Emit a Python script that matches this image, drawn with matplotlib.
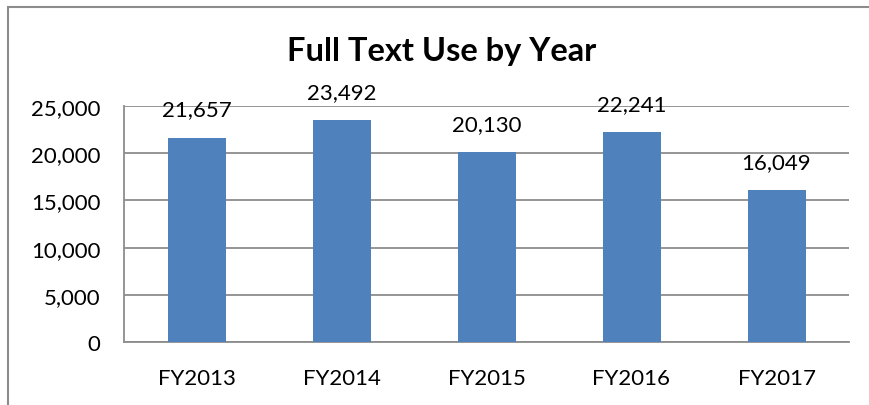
import numpy as np
import matplotlib.pyplot as plt
from matplotlib.patches import Rectangle

# data
years = ["FY2013", "FY2014", "FY2015", "FY2016", "FY2017"]
uses = [21657, 23492, 20130, 22241, 16049]
yticks = [0, 5000, 10000, 15000, 20000, 25000]

W, H = 869, 406
fig = plt.figure(figsize=(W / 100, H / 100), dpi=100)
plt.rcParams['font.family'] = ['Lato', 'DejaVu Sans']

# chart border (cut off at right and bottom like the reference)
fig.patches.append(Rectangle((8 / W, -0.1), 1.2, (H - 8) / H + 0.1,
                             transform=fig.transFigure, fill=False,
                             edgecolor="#8c8c8c", linewidth=1.5))

# plot area in pixels: left 124, right 849, top 107, bottom 343
ax = fig.add_axes([124 / W, (H - 343) / H, (849 - 124) / W, (343 - 107) / H])

x = np.arange(len(years))
ax.bar(x, uses, width=0.4, color="#4f81bd", zorder=3)
ax.set_xlim(-0.5, len(years) - 0.5)
ax.set_ylim(0, 25000)
ax.set_yticks(yticks)
ax.set_yticklabels([f"{v:,}" for v in yticks], fontsize=16)
ax.set_xticks(x)
ax.set_xticklabels(years, fontsize=16)
ax.tick_params(length=0, pad=17, axis="y")
ax.tick_params(length=0, pad=19, axis="x")
ax.grid(axis="y", color="#8c8c8c", linewidth=1.3, zorder=0)

for s in ["top", "right"]:
    ax.spines[s].set_visible(False)
for s in ["left", "bottom"]:
    ax.spines[s].set_color("#8c8c8c")
    ax.spines[s].set_linewidth(1.3)

for xi, v in zip(x, uses):
    ax.annotate(f"{v:,}", (xi, v), xytext=(0, 13), textcoords="offset points",
                ha="center", va="bottom", fontsize=16)

fig.text(442 / W, 1 - 52 / H, "Full Text Use by Year", ha="center", va="center",
         fontsize=23.5, fontweight="bold")

fig.savefig("out.png", dpi=100)
